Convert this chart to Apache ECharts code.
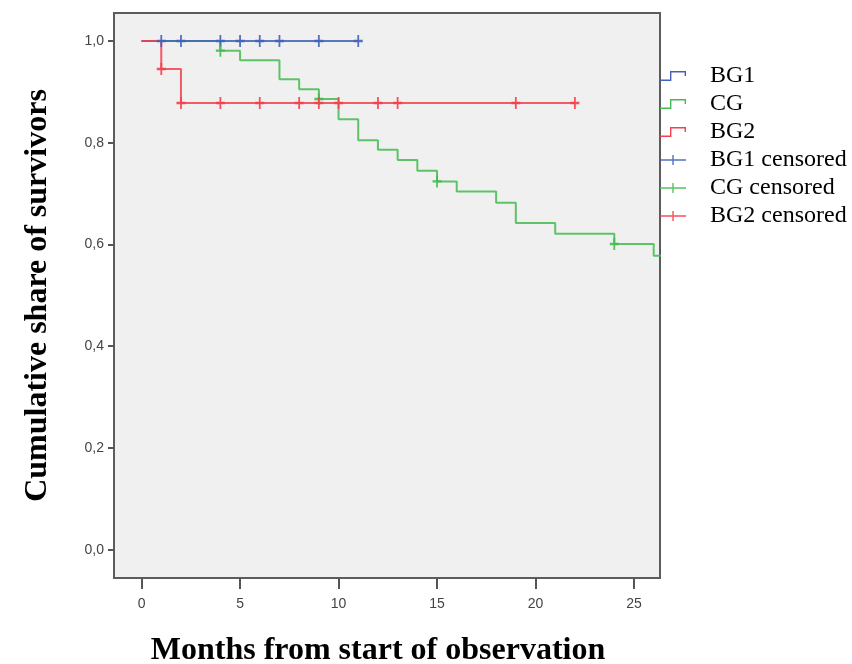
<!DOCTYPE html>
<html>
<head>
<meta charset="utf-8">
<script src="https://cdn.jsdelivr.net/npm/echarts@6/dist/echarts.min.js"></script>
<style>html,body{margin:0;padding:0;background:#fff;}#c{width:852px;height:664px;}</style>
</head>
<body>
<div id="c"></div>
<script>
// Kaplan-Meier step data: [month, cumulative survival]
const bg1Steps = [[0, 1.0], [11, 1.0]];
const cgSteps = [[0, 1.0], [4, 0.981], [5, 0.962], [7, 0.925], [8, 0.905], [9, 0.886], [10, 0.846],
  [11, 0.805], [12, 0.786], [13, 0.766], [14, 0.745], [15, 0.724], [16, 0.704], [18, 0.682],
  [19, 0.642], [21, 0.621], [24, 0.601], [26, 0.578], [27, 0.578]];
const bg2Steps = [[0, 1.0], [1, 0.945], [2, 0.878], [22, 0.878]];
// censored observations
const bg1Censored = [[1, 1.0], [2, 1.0], [4, 1.0], [5, 1.0], [6, 1.0], [7, 1.0], [9, 1.0], [11, 1.0]];
const cgCensored = [[4, 0.981], [9, 0.886], [15, 0.724], [24, 0.601]];
const bg2Censored = [[1, 0.945], [2, 0.878], [4, 0.878], [6, 0.878], [8, 0.878], [9, 0.878], [10, 0.878],
  [12, 0.878], [13, 0.878], [19, 0.878], [22, 0.878]];
const xTicks = [0, 5, 10, 15, 20, 25];
const yTicks = [0, 0.2, 0.4, 0.6, 0.8, 1.0];
const seriesNames = ['BG1', 'CG', 'BG2', 'BG1 censored', 'CG censored', 'BG2 censored'];

const BLUE = '#4262b8', GREEN = '#44bb50', RED = '#f2404c';
const stepIcon = 'path://M0,8.6 L10,8.6 L10,0 L26,0 L26,5 L24.6,5 L24.6,1.4 L11.4,1.4 L11.4,10 L0,10 Z';
const plusIcon = 'path://M0,4.3 L12.3,4.3 L12.3,0 L13.7,0 L13.7,4.3 L26,4.3 L26,5.7 L13.7,5.7 L13.7,10 L12.3,10 L12.3,5.7 L0,5.7 Z';
const plusMark = 'path://M4,0 L6,0 L6,4 L10,4 L10,6 L6,6 L6,10 L4,10 L4,6 L0,6 L0,4 L4,4 Z';

const chart = echarts.init(document.getElementById('c'), null, {renderer: 'canvas'});
function stepSeries(name, data, color) {
  return {name, type: 'line', step: 'end', data, symbol: 'none', clip: true,
    lineStyle: {color, width: 2, opacity: 0.85}, itemStyle: {color}, z: 2};
}
function censSeries(name, data, color) {
  return {name, type: 'scatter', data, symbol: plusMark, symbolSize: [9, 12],
    itemStyle: {color, opacity: 0.9}, z: 3};
}
const option = {
  animation: false,
  backgroundColor: '#fff',
  grid: {left: 114, top: 13, right: 192, bottom: 86, show: true, backgroundColor: '#f0f0f0',
    borderColor: '#5c5c5c', borderWidth: 2, containLabel: false, outerBoundsMode: 'none'},
  legend: {
    orient: 'vertical', left: 660, top: 64, padding: 0, itemWidth: 26, itemHeight: 10, itemGap: 4,
    textStyle: {fontFamily: 'Liberation Serif', fontSize: 24, lineHeight: 24, color: '#000', padding: [0, 0, 0, 19]},
    data: [
      {name: seriesNames[0], icon: stepIcon},
      {name: seriesNames[1], icon: stepIcon},
      {name: seriesNames[2], icon: stepIcon},
      {name: seriesNames[3], icon: plusIcon},
      {name: seriesNames[4], icon: plusIcon},
      {name: seriesNames[5], icon: plusIcon}
    ]
  },
  xAxis: {
    type: 'value', min: -1.4, max: 26.32,
    name: 'Months from start of observation', nameLocation: 'middle', nameGap: 57,
    nameTextStyle: {fontFamily: 'Liberation Serif', fontWeight: 'bold', fontSize: 32, color: '#000', padding: [0, 18, 0, 0]},
    axisLine: {show: false, onZero: false}, splitLine: {show: false},
    axisTick: {show: true, length: 11, customValues: xTicks, lineStyle: {color: '#555', width: 2}},
    axisLabel: {customValues: xTicks, margin: 19, fontFamily: 'Liberation Sans', fontSize: 14, color: '#444'}
  },
  yAxis: {
    type: 'value', min: -0.0557, max: 1.055,
    name: 'Cumulative share of survivors', nameLocation: 'middle', nameGap: 60,
    nameTextStyle: {fontFamily: 'Liberation Serif', fontWeight: 'bold', fontSize: 32, color: '#000'},
    axisLine: {show: false, onZero: false}, splitLine: {show: false},
    axisTick: {show: true, length: 6, customValues: yTicks, lineStyle: {color: '#555', width: 2}},
    axisLabel: {customValues: yTicks, margin: 10, fontFamily: 'Liberation Sans', fontSize: 14, color: '#444',
      formatter: v => v.toFixed(1).replace('.', ',')}
  },
  series: [
    stepSeries(seriesNames[1], cgSteps, GREEN),
    stepSeries(seriesNames[0], bg1Steps, BLUE),
    stepSeries(seriesNames[2], bg2Steps, RED),
    censSeries(seriesNames[3], bg1Censored, BLUE),
    censSeries(seriesNames[4], cgCensored, GREEN),
    censSeries(seriesNames[5], bg2Censored, RED)
  ]
};
chart.setOption(option);
</script>
</body>
</html>
